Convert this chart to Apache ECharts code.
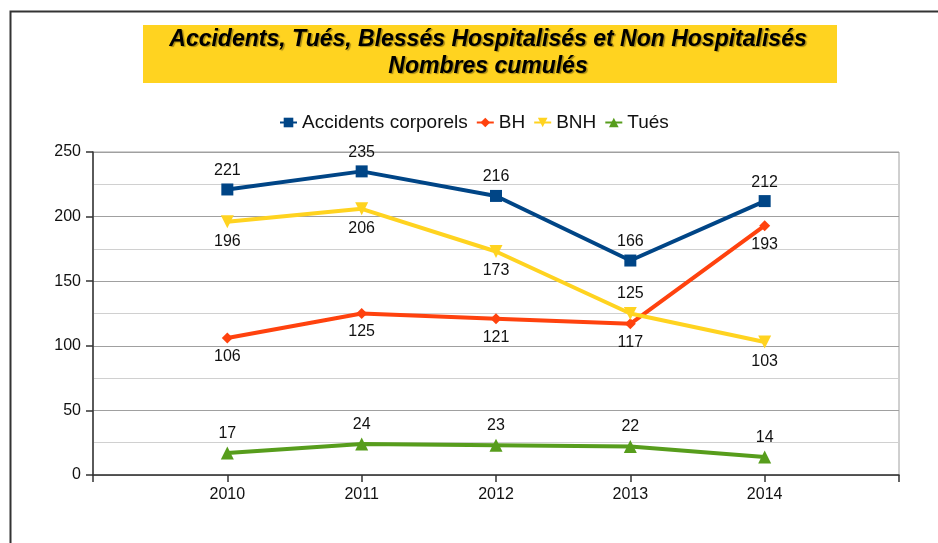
<!DOCTYPE html>
<html>
<head>
<meta charset="utf-8">
<script src="https://cdn.jsdelivr.net/npm/echarts@6/dist/echarts.min.js"></script>
<style>
html,body{margin:0;padding:0;background:#fff;}
#chart{width:938px;height:543px;}
</style>
</head>
<body>
<div id="chart"></div>
<script>
// ---- data ----
const years = [2010, 2011, 2012, 2013, 2014];
const accidents = [221, 235, 216, 166, 212];
const bh = [106, 125, 121, 117, 193];
const bnh = [196, 206, 173, 125, 103];
const tues = [17, 24, 23, 22, 14];
const seriesNames = ['Accidents corporels', 'BH', 'BNH', 'Tués'];
const yTicks = [0, 50, 100, 150, 200, 250];
const titleText = 'Accidents, Tués, Blessés Hospitalisés et Non Hospitalisés\nNombres cumulés';

// ---- chart ----
const FONT = '"Liberation Sans", Arial, sans-serif';
const chart = echarts.init(document.getElementById('chart'), null, {renderer: 'canvas'});

function pairs(vals, labelPos) {
  return vals.map((v, i) => {
    const d = {value: [years[i], v]};
    if (labelPos && labelPos[i]) d.label = {position: labelPos[i]};
    return d;
  });
}

function mk(name, vals, color, symbol, size, pos, extra) {
  return Object.assign({
    name: name,
    type: 'line',
    data: vals,
    symbol: symbol,
    symbolSize: size,
    lineStyle: {color: color, width: 4},
    itemStyle: {color: color},
    label: {show: true, position: pos, color: '#111', fontSize: 16, fontFamily: FONT,
      formatter: p => p.value[1]},
    emphasis: {disabled: true},
    animation: false
  }, extra || {});
}

chart.setOption({
  backgroundColor: '#fff',
  animation: false,
  graphic: [
    {type: 'rect', left: 8, top: 9, shape: {width: 940, height: 545},
      style: {fill: 'none', stroke: '#333', lineWidth: 2}, z: -1},
    {type: 'rect', shape: {x: 143, y: 25, width: 694, height: 58},
      style: {fill: '#FFD320'}, z: -1}
  ],
  title: {
    text: titleText,
    left: 488,
    top: 26,
    textAlign: 'center',
    padding: 0,
    textStyle: {
      fontFamily: FONT, fontSize: 23, fontWeight: 'bold', fontStyle: 'italic',
      color: '#000', lineHeight: 27,
      textShadowColor: 'rgba(0,0,0,0.35)', textShadowOffsetX: 1.5, textShadowOffsetY: 1.5, textShadowBlur: 1
    }
  },
  legend: {
    data: seriesNames,
    left: 279,
    top: 113,
    itemWidth: 17,
    itemHeight: 12,
    itemGap: 8,
    padding: 0,
    textStyle: {fontFamily: FONT, fontSize: 19, color: '#111'}
  },
  grid: {
    left: 93, right: 39, top: 152, bottom: 68,
    show: true, borderColor: '#a0a0a0', borderWidth: 1, containLabel: false
  },
  xAxis: {
    type: 'value',
    min: 2009, max: 2015, interval: 1,
    axisLine: {show: true, lineStyle: {color: '#333', width: 1.5}},
    axisTick: {show: true, length: 7, lineStyle: {color: '#333', width: 1.5}},
    splitLine: {show: false},
    axisLabel: {
      fontFamily: FONT, fontSize: 16, color: '#111', margin: 12,
      formatter: v => (years.indexOf(v) >= 0 ? String(v) : '')
    }
  },
  yAxis: {
    type: 'value',
    min: yTicks[0], max: yTicks[yTicks.length - 1], interval: 50,
    axisLine: {show: true, lineStyle: {color: '#333', width: 1.5}},
    axisTick: {show: true, length: 7, lineStyle: {color: '#333', width: 1.5}},
    splitLine: {show: true, lineStyle: {color: '#a0a0a0', width: 1}},
    minorTick: {show: false, splitNumber: 2},
    minorSplitLine: {show: true, lineStyle: {color: '#d0d0d0', width: 1}},
    axisLabel: {fontFamily: FONT, fontSize: 16, color: '#111', margin: 12}
  },
  series: [
    mk('Accidents corporels', pairs(accidents), '#004586', 'rect', 12, 'top'),
    mk('BH', pairs(bh), '#FF420E', 'diamond', 11, 'bottom'),
    mk('BNH', pairs(bnh, [null, null, null, 'top', null]), '#FFD320', 'triangle', 13, 'bottom', {symbolRotate: 180}),
    mk('Tués', pairs(tues), '#579D1C', 'triangle', 13, 'top')
  ]
});
</script>
</body>
</html>
